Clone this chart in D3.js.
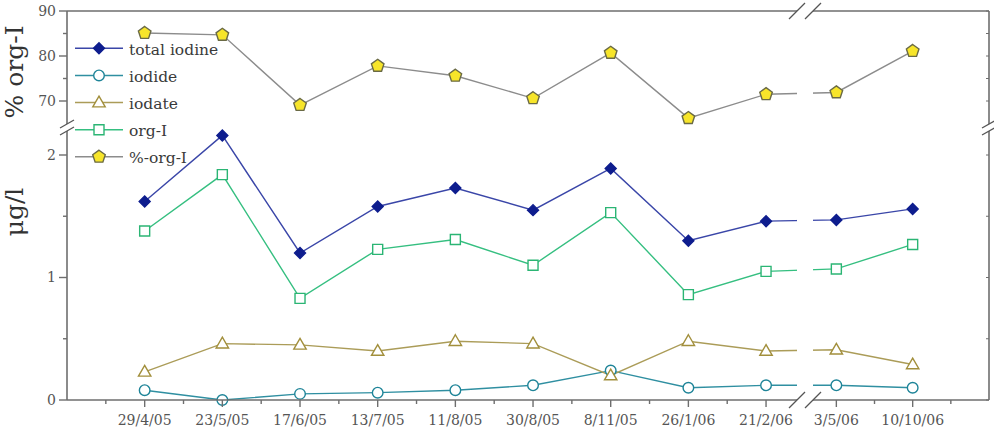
<!DOCTYPE html>
<html><head><meta charset="utf-8">
<script src="https://cdn.jsdelivr.net/npm/d3@7"></script>
<style>html,body{margin:0;padding:0;background:#fff;}svg{display:block;}</style>
</head><body>
<svg id="c" width="994" height="428"></svg>
<script>
// ---- data ----
const dates = ["29/4/05","23/5/05","17/6/05","13/7/05","11/8/05","30/8/05","8/11/05","26/1/06","21/2/06","3/5/06","10/10/06"];
const totalIodine = [1.62, 2.16, 1.20, 1.58, 1.73, 1.55, 1.89, 1.30, 1.46, 1.47, 1.56];
const iodide      = [0.08, 0.00, 0.05, 0.06, 0.08, 0.12, 0.24, 0.10, 0.12, 0.12, 0.10];
const iodate      = [0.23, 0.46, 0.45, 0.40, 0.48, 0.46, 0.20, 0.48, 0.40, 0.41, 0.29];
const orgI        = [1.38, 1.84, 0.83, 1.23, 1.31, 1.10, 1.53, 0.86, 1.05, 1.07, 1.27];
const pctOrgI     = [85.1, 84.7, 69.1, 77.8, 75.6, 70.6, 80.7, 66.2, 71.5, 71.9, 81.1];
const lowTicks = [0, 1, 2];
const lowMinor = [0.5, 1.5];
const topTicks = [70, 80, 90];
const topMinor = [75, 85];
const legendNames = ["total iodine","iodide","iodate","org-I","%-org-I"];

// ---- layout ----
const svg = d3.select("#c");
const L = 67, R = 989, T = 11, B = 400;
const breakX = 805;
const x = d3.scaleLinear().domain([-1, 8.45, 8.55, 11]).range([L, 801, 802, R]);
const yLow = d3.scaleLinear().domain([0, 2.2]).range([B, 130.5]);
const yTop = d3.scaleLinear().domain([65, 90]).range([123.5, T]);
const axisColor = "#6e6e6e";
const font = "'DejaVu Serif', serif";

// marker shapes
function diamond(cx, cy, r){return `M${cx},${cy-r}L${cx+r},${cy}L${cx},${cy+r}L${cx-r},${cy}Z`;}
function square(cx, cy, r){return `M${cx-r},${cy-r}h${2*r}v${2*r}h${-2*r}Z`;}
function triangle(cx, cy, r){const h=r*1.732; return `M${cx},${cy-h*0.6}L${cx+r},${cy+h*0.4}L${cx-r},${cy+h*0.4}Z`;}
function circle(cx, cy, r){return `M${cx+r},${cy}A${r},${r} 0 1,1 ${cx-r},${cy}A${r},${r} 0 1,1 ${cx+r},${cy}Z`;}
function pentagon(cx, cy, r){let p=[];for(let k=0;k<5;k++){const a=-Math.PI/2+k*2*Math.PI/5;p.push([cx+r*Math.cos(a),cy+r*Math.sin(a)]);}return "M"+p.map(d=>d.join(",")).join("L")+"Z";}

const series = [
  {name:legendNames[0], vals: totalIodine, y: yLow, line:"#3a46a8", stroke:"#0e1d8e", fill:"#0e1d8e", shape: diamond, r:5.5},
  {name:legendNames[1], vals: iodide, y: yLow, line:"#2f8fa1", stroke:"#1e8498", fill:"#fff", shape: circle, r:5.3},
  {name:legendNames[2], vals: iodate, y: yLow, line:"#ab9c58", stroke:"#a28f3c", fill:"#fff", shape: triangle, r:6.2},
  {name:legendNames[3], vals: orgI, y: yLow, line:"#35bf80", stroke:"#2bb574", fill:"#fff", shape: square, r:5},
  {name:legendNames[4], vals: pctOrgI, y: yTop, line:"#8c8c8c", stroke:"#6a6a45", fill:"#f7e52a", shape: pentagon, r:6.6}
];

// lines
const gLines = svg.append("g");
series.forEach(s=>{
  const line = d3.line().x((d,i)=>x(i)).y(d=>s.y(d));
  gLines.append("path").attr("d", line(s.vals)).attr("fill","none")
    .attr("stroke", s.line).attr("stroke-width",1.4);
});
// break mask
svg.append("rect").attr("x", 797).attr("y", T+1).attr("width", 16).attr("height", B-T-2).attr("fill","#fff");

// markers
series.forEach(s=>{
  svg.append("g").selectAll("path").data(s.vals).join("path")
    .attr("d",(d,i)=>s.shape(x(i), s.y(d), s.r))
    .attr("fill", s.fill).attr("stroke", s.stroke).attr("stroke-width",1.4);
});

// legend
const legY = d3.scaleLinear().domain([0,4]).range([48.3, 156.8]);
series.forEach((s,k)=>{
  const ly = legY(k);
  svg.append("line").attr("x1",75).attr("x2",123).attr("y1",ly).attr("y2",ly)
    .attr("stroke", s.line).attr("stroke-width",1.6);
  svg.append("path").attr("d", s.shape(99, ly, s.r)).attr("fill", s.fill)
    .attr("stroke", s.stroke).attr("stroke-width",1.4);
  svg.append("text").attr("x",129).attr("y", ly+6.5).text(s.name)
    .attr("font-family", font).attr("font-size", 15.5).attr("fill","#3a3a3a");
});

// axes frame
const ax = svg.append("g").attr("stroke", axisColor).attr("stroke-width",1.6).attr("fill","none");
// top
ax.append("line").attr("x1",L).attr("x2",797).attr("y1",T).attr("y2",T);
ax.append("line").attr("x1",813).attr("x2",R).attr("y1",T).attr("y2",T);
// bottom
ax.append("line").attr("x1",L).attr("x2",797).attr("y1",B).attr("y2",B);
ax.append("line").attr("x1",813).attr("x2",R).attr("y1",B).attr("y2",B);
// left / right
[L, R].forEach(xx=>{
  ax.append("line").attr("x1",xx).attr("x2",xx).attr("y1",T).attr("y2",124);
  ax.append("line").attr("x1",xx).attr("x2",xx).attr("y1",131).attr("y2",B);
});
// break slashes
const sl = svg.append("g").attr("stroke", "#555").attr("stroke-width",1.3);
[797, 813].forEach(cx=>{
  [T, B].forEach(cy=>{
    sl.append("line").attr("x1",cx-8).attr("y1",cy+8).attr("x2",cx+8).attr("y2",cy-8);
  });
});
[124, 131].forEach(cy=>{
  [L, R].forEach(cx=>{
    sl.append("line").attr("x1",cx-7).attr("y1",cy+4).attr("x2",cx+7).attr("y2",cy-4);
  });
});

// y ticks
const tk = svg.append("g").attr("stroke", axisColor).attr("stroke-width",1.4);
function yTick(yy, len){ tk.append("line").attr("x1",L-len).attr("x2",L).attr("y1",yy).attr("y2",yy);
  tk.append("line").attr("x1",R-3).attr("x2",R).attr("y1",yy).attr("y2",yy).attr("stroke-width",1); }
topTicks.forEach(v=>yTick(yTop(v),8));
lowTicks.forEach(v=>yTick(yLow(v),8));
topMinor.forEach(v=>yTick(yTop(v),4));
lowMinor.forEach(v=>yTick(yLow(v),4));
const lbl = svg.append("g").attr("font-family", font).attr("font-size",14).attr("fill","#555").attr("text-anchor","end");
topTicks.forEach(v=>lbl.append("text").attr("x",56).attr("y",yTop(v)).attr("dy","0.35em").text(v));
lowTicks.forEach(v=>lbl.append("text").attr("x",56).attr("y",yLow(v)).attr("dy","0.35em").text(v));

// x ticks
dates.forEach((d,i)=>{
  tk.append("line").attr("x1",x(i)).attr("x2",x(i)).attr("y1",B).attr("y2",B+7);
  svg.append("text").attr("x",x(i)).attr("y",425).attr("text-anchor","middle")
    .attr("font-family",font).attr("font-size",14).attr("fill","#555").text(d);
});
const xMinor = d3.range(-0.5, 8, 1).concat([9.5, 10.5]);
xMinor.forEach(v=>tk.append("line").attr("x1",x(v)).attr("x2",x(v)).attr("y1",B).attr("y2",B+4));

// axis titles
svg.append("text").attr("transform","translate(23,72) rotate(-90)").attr("text-anchor","middle")
  .attr("font-family",font).attr("font-size",25).attr("fill","#333").text("% org-I");
svg.append("text").attr("transform","translate(23,212) rotate(-90)").attr("text-anchor","middle")
  .attr("font-family",font).attr("font-size",25).attr("fill","#333").text("μg/l");
</script>
</body></html>
